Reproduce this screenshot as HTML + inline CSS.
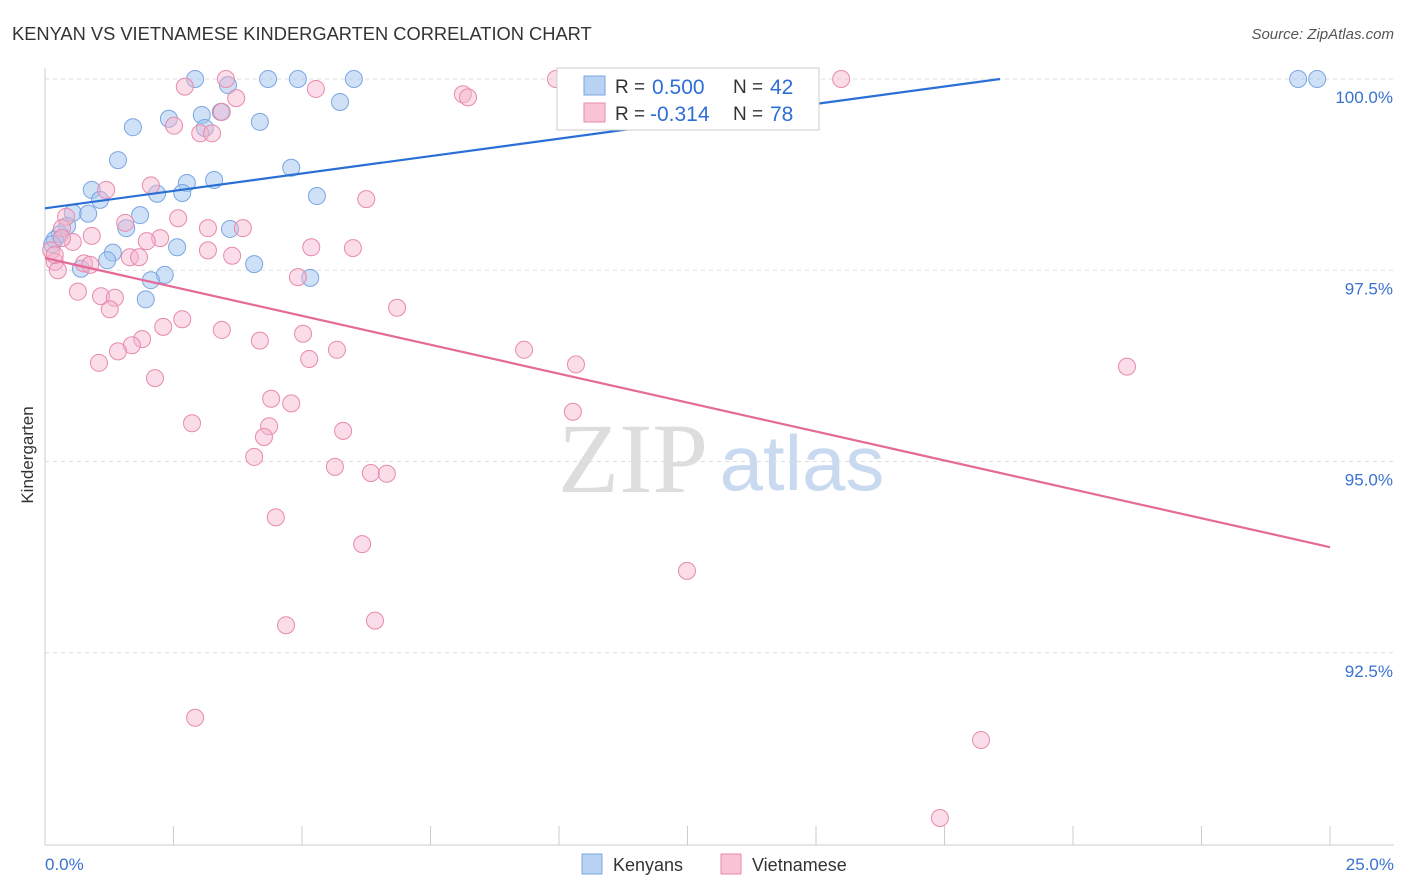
<!DOCTYPE html>
<html><head><meta charset="utf-8"><style>
body{margin:0;background:#fff;font-family:"Liberation Sans",sans-serif}
svg{display:block}
</style></head><body>
<svg id="c" width="1406" height="892" xmlns="http://www.w3.org/2000/svg">
<text x="12" y="40" font-size="18.3" fill="#333">KENYAN VS VIETNAMESE KINDERGARTEN CORRELATION CHART</text>
<text x="1394" y="39" font-size="15" fill="#555" font-style="italic" text-anchor="end">Source: ZipAtlas.com</text>
<text transform="translate(33,455) rotate(-90)" font-size="17" fill="#333" text-anchor="middle">Kindergarten</text>
<g><text x="633" y="492" font-size="100" fill="#ddd" font-family="Liberation Serif,serif" text-anchor="middle">ZIP</text><text x="802" y="490" font-size="78" fill="#c9daf0" text-anchor="middle">atlas</text></g>
<g id="grid"></g><g id="axes"></g><g id="pts"></g><g id="lines"></g>
<g>
<rect x="557" y="68" width="262" height="62" fill="#fff" stroke="#ccc"/>
<rect x="584" y="76" width="21" height="19" fill="#b8d2f4" stroke="#7aa6e0"/>
<rect x="584" y="103" width="21" height="19" fill="#f8c4d6" stroke="#e88aab"/>
<text x="615" y="93" font-size="19" fill="#333">R =</text><text x="652" y="94" font-size="21" fill="#2e6fd6">0.500</text>
<text x="733" y="93" font-size="19" fill="#333">N =</text><text x="770" y="94" font-size="21" fill="#2e6fd6">42</text>
<text x="615" y="120" font-size="19" fill="#333">R =</text><text x="650" y="121" font-size="21" fill="#2e6fd6">-0.314</text>
<text x="733" y="120" font-size="19" fill="#333">N =</text><text x="770" y="121" font-size="21" fill="#2e6fd6">78</text>
</g>
<g>
<rect x="582" y="854" width="20" height="20" fill="#b8d2f4" stroke="#7aa6e0"/>
<text x="613" y="871" font-size="18" fill="#333">Kenyans</text>
<rect x="721" y="854" width="20" height="20" fill="#f8c4d6" stroke="#e88aab"/>
<text x="752" y="871" font-size="18" fill="#333">Vietnamese</text>
</g>
</svg>
<script>
const yTicks=[100,97.5,95,92.5];
const yTickLabels=["100.0%","97.5%","95.0%","92.5%"];
const xLabels=["0.0%","25.0%"];
const kenX=[2.92,4.34,4.92,6.01,3.56,5.74,3.42,3.05,2.41,4.18,1.71,3.11,1.42,4.79,3.29,2.76,0.91,2.18,2.67,5.29,1.07,0.54,0.84,1.85,1.58,3.60,0.43,0.29,0.19,0.14,2.57,1.32,4.07,1.21,0.70,2.33,2.06,5.16,1.96,24.38,24.75,10.35];
const kenY=[100,100,100,100,99.92,99.70,99.57,99.53,99.48,99.44,99.37,99.36,98.94,98.84,98.68,98.64,98.55,98.50,98.51,98.47,98.42,98.25,98.24,98.22,98.05,98.04,98.08,97.97,97.90,97.84,97.80,97.73,97.58,97.63,97.52,97.44,97.37,97.40,97.12,100,100,100];
const vieX=[3.52,9.94,15.49,2.72,5.27,8.13,8.23,3.72,3.44,2.51,3.02,3.25,1.19,2.06,6.25,0.41,2.59,1.56,0.33,3.17,3.85,0.91,2.24,1.98,0.54,5.18,5.99,3.17,3.64,0.12,1.65,1.83,0.19,0.76,0.88,0.25,4.92,0.64,1.09,1.36,1.26,6.85,2.67,2.30,3.44,5.02,1.89,1.69,4.18,1.42,5.68,9.32,1.05,5.14,10.33,21.05,2.14,4.40,4.79,10.27,2.86,4.36,5.80,4.26,4.07,5.64,6.34,6.65,4.49,6.17,12.49,6.42,4.69,2.92,18.21,17.41,0.33,0.19];
const vieY=[100,100,100,99.90,99.87,99.80,99.76,99.75,99.57,99.39,99.29,99.29,98.55,98.61,98.43,98.20,98.18,98.12,98.05,98.05,98.05,97.95,97.92,97.88,97.87,97.80,97.79,97.76,97.69,97.76,97.67,97.67,97.61,97.59,97.57,97.50,97.41,97.22,97.16,97.14,96.99,97.01,96.86,96.76,96.72,96.67,96.60,96.52,96.58,96.44,96.46,96.46,96.29,96.34,96.27,96.24,96.09,95.82,95.76,95.65,95.50,95.46,95.40,95.32,95.06,94.93,94.85,94.84,94.27,93.92,93.57,92.92,92.86,91.65,91.36,90.34,97.92,97.70];
const kenLine=[0,98.31,18.58,100];
const vieLine=[0,97.66,25,93.88];
const NS="http://www.w3.org/2000/svg";
const X=v=>45+v*51.4, Y=v=>79+(100-v)*76.5;
function mk(p,t,a){const e=document.createElementNS(NS,t);for(const k in a)e.setAttribute(k,a[k]);document.getElementById(p).appendChild(e);return e;}
yTicks.forEach((t,i)=>{
 const g=mk('grid','line',{x1:45,x2:1394,y1:Y(t),y2:Y(t),stroke:'#ddd','stroke-dasharray':'4,4'});
 
 
 const l=mk('grid','text',{x:1393,y:Y(t)+24,'font-size':17,fill:'#3a72d0','text-anchor':'end'});l.textContent=yTickLabels[i];
 
 
});
const ax=mk('axes','line',{x1:45,x2:1394,y1:845,y2:845,stroke:'#ccc'});


const ay=mk('axes','line',{x1:45,x2:45,y1:68,y2:845,stroke:'#ccc'});


for(let i=0;i<=10;i++){const t=mk('axes','line',{x1:X(i*2.5),x2:X(i*2.5),y1:826,y2:845,stroke:'#ccc'});
 
 }
[[0,'start',45],[1,'end',1394]].forEach(([i,a,x])=>{const l=mk('axes','text',{x:x,y:870,'font-size':17,fill:'#3a72d0','text-anchor':a});l.textContent=xLabels[i];
 
 });
kenX.forEach((v,i)=>{const c=mk('pts','circle',{cx:X(v),cy:Y(kenY[i]),r:8.5,fill:'rgba(160,196,240,0.5)',stroke:'#7aa6e0','stroke-width':1});
 
 });
vieX.forEach((v,i)=>{const c=mk('pts','circle',{cx:X(v),cy:Y(vieY[i]),r:8.5,fill:'rgba(244,180,204,0.45)',stroke:'#e88aab','stroke-width':1});
 
 });
const l1=mk('lines','line',{x1:X(kenLine[0]),y1:Y(kenLine[1]),x2:X(kenLine[2]),y2:Y(kenLine[3]),stroke:'#2a6fd6','stroke-width':2.2});


const l2=mk('lines','line',{x1:X(vieLine[0]),y1:Y(vieLine[1]),x2:X(vieLine[2]),y2:Y(vieLine[3]),stroke:'#e46a98','stroke-width':2.2});


</script>
</body></html>
